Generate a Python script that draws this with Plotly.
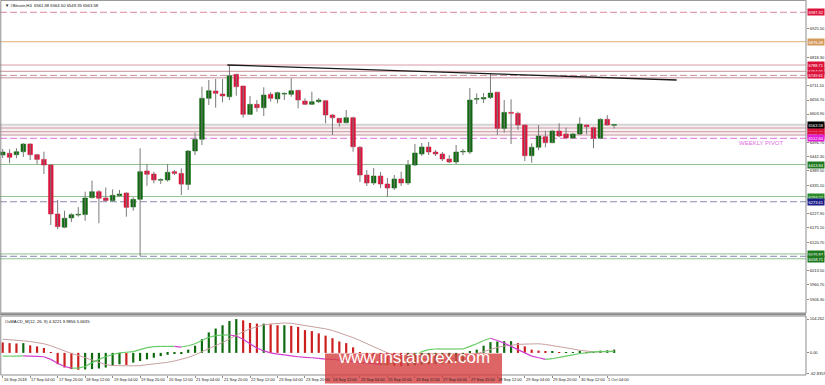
import plotly.graph_objects as go

# ---------------- data ----------------
bar_index = list(range(90))
open_ = [6449.7, 6456.1, 6450.8, 6462.1, 6491.2, 6450.8, 6433.1, 6412.0, 6227.5, 6177.6,
         6212.6, 6223.5, 6225.7, 6288.9, 6311.5, 6287.7, 6277.6, 6296.4, 6306.6, 6253.9,
         6282.8, 6389.5, 6378.1, 6354.5, 6355.5, 6386.9, 6380.3, 6338.8, 6464.8, 6508.9,
         6663.3, 6690.8, 6679.5, 6669.3, 6753.7, 6709.6, 6602.9, 6640.7, 6627.9, 6678.4,
         6660.7, 6679.0, 6678.4, 6693.4, 6653.1, 6640.7, 6650.5, 6654.3, 6600.4, 6588.0,
         6571.4, 6590.2, 6478.8, 6374.4, 6344.2, 6370.6, 6340.5, 6325.4, 6359.3, 6344.2,
         6412.0, 6453.5, 6479.9, 6461.0, 6453.5, 6434.6, 6423.3, 6461.0, 6461.0, 6659.5,
         6660.7, 6666.3, 6686.0, 6550.0, 6610.4, 6606.6, 6562.7, 6447.1, 6478.8, 6518.8,
         6496.2, 6540.0, 6528.8, 6513.7, 6528.8, 6562.7, 6552.6, 6512.7, 6584.2, 6561.68]
high = [6472.3, 6471.2, 6475.0, 6493.8, 6493.8, 6454.5, 6462.1, 6415.8, 6280.2, 6239.9,
        6230.3, 6253.5, 6311.5, 6353.1, 6317.9, 6327.3, 6320.4, 6317.9, 6308.8, 6290.4,
        6475.0, 6415.8, 6386.9, 6361.9, 6415.8, 6393.2, 6399.3, 6468.6, 6534.7, 6707.0,
        6732.2, 6736.0, 6736.0, 6788.7, 6755.0, 6711.0, 6672.0, 6656.9, 6704.7, 6685.9,
        6688.2, 6685.9, 6738.6, 6694.6, 6663.3, 6688.2, 6664.4, 6655.0, 6603.0, 6589.0,
        6619.2, 6594.0, 6483.6, 6393.2, 6400.7, 6385.7, 6363.1, 6374.4, 6386.7, 6430.9,
        6491.2, 6494.9, 6498.7, 6468.6, 6461.0, 6449.7, 6487.4, 6472.3, 6702.1, 6682.1,
        6683.3, 6758.6, 6688.2, 6656.9, 6659.5, 6612.8, 6564.0, 6493.8, 6562.7, 6541.1,
        6543.9, 6569.1, 6552.6, 6532.6, 6591.7, 6564.0, 6556.4, 6588.0, 6600.4, 6564.50]
low = [6438.4, 6418.4, 6437.3, 6442.2, 6430.9, 6414.6, 6378.1, 6186.0, 6170.0, 6173.8,
       6197.3, 6217.5, 6201.9, 6286.6, 6192.7, 6273.4, 6273.9, 6292.6, 6217.5, 6239.9,
       6069.2, 6333.7, 6342.8, 6340.5, 6349.2, 6374.4, 6299.0, 6317.9, 6449.7, 6487.4,
       6638.1, 6627.9, 6648.2, 6656.9, 6673.1, 6590.2, 6600.4, 6612.8, 6596.6, 6650.5,
       6644.5, 6656.9, 6669.3, 6625.6, 6638.1, 6638.1, 6645.6, 6568.9, 6525.1, 6556.3,
       6568.9, 6462.1, 6348.0, 6332.9, 6336.7, 6325.4, 6291.5, 6317.9, 6332.9, 6336.7,
       6408.3, 6445.9, 6449.7, 6445.9, 6427.1, 6419.6, 6415.8, 6449.7, 6453.5, 6641.8,
       6645.6, 6660.7, 6525.1, 6533.8, 6491.2, 6543.9, 6427.1, 6420.0, 6468.6, 6478.8,
       6493.8, 6516.3, 6509.7, 6509.7, 6525.1, 6527.3, 6474.9, 6509.7, 6560.0, 6549.35]
close = [6461.0, 6441.1, 6462.1, 6491.2, 6450.8, 6433.1, 6412.0, 6227.5, 6179.8, 6211.5,
         6225.0, 6225.7, 6287.7, 6311.5, 6286.6, 6278.3, 6297.9, 6302.8, 6252.4, 6282.8,
         6386.9, 6377.1, 6355.5, 6355.5, 6384.6, 6380.3, 6340.0, 6464.8, 6508.9, 6663.3,
         6691.9, 6682.1, 6672.0, 6748.4, 6707.0, 6602.9, 6640.7, 6627.9, 6675.7, 6663.3,
         6684.4, 6679.5, 6691.9, 6656.9, 6640.7, 6650.5, 6656.9, 6600.4, 6590.2, 6571.4,
         6590.2, 6480.8, 6374.4, 6344.2, 6370.6, 6340.5, 6325.4, 6359.3, 6344.2, 6412.0,
         6457.2, 6479.9, 6461.0, 6453.5, 6434.6, 6423.3, 6461.0, 6462.1, 6656.9, 6661.8,
         6666.3, 6683.3, 6550.0, 6610.4, 6606.6, 6562.7, 6447.1, 6478.8, 6521.3, 6496.2,
         6540.0, 6521.3, 6513.7, 6528.8, 6566.5, 6556.4, 6512.7, 6584.2, 6562.7, 6563.58]

osma_hist = [32, 30, 29, 30, 23, 20, 15, 2, -35, -45,
             -50, -52, -51, -50, -48, -45, -40, -35, -37, -30,
             -25, -20, -15, -10, -6, -3, -2, 10, 22, 42,
             63, 75, 85, 98, 104, 100, 92, 90, 90, 88,
             85, 85, 83, 80, 70, 67, 60, 53, 45, 35,
             30, 17, 1, -20, -30, -35, -38, -40, -41, -40,
             -38, -36, -35, -34, -33, -32, -30, -28, 5, 10,
             22, 33, 35, 36, 36, 30, 20, 10, 7, 3,
             3, 2, 2, 2, 5, 2, 2, 7, 8, 9.99]
macd_line = [-10, -10, -10, -9, -10, -11, -12, -20, -32, -42,
             -47, -47, -42, -30, -20, -12, -5, 0, 2, 4,
             10, 16, 19, 20, 20, 20, 18, 22, 28, 38,
             48, 53, 55, 55, 52, 42, 28, 15, 6, 0,
             -4, -6, -9, -12, -14, -15, -17, -19, -20, -22,
             -24, -27, -30, -31, -33, -35, -35, -30, -22, -12,
             -4, 4, 10, 12, 12, 12, 12, 12, 20, 28,
             38, 45, 38, 30, 20, 10, 0, -10, -15, -20,
             -18, -14, -10, -6, -2, 0, 3, 4, 4, 4.32]
signal_line = [42, 41, 39, 37, 35, 32, 28, 22, 14, 5,
               -2, -8, -15, -22, -30, -36, -39, -40, -40, -40,
               -39, -37, -35, -32, -29, -25, -20, -14, -6, 3,
               12, 22, 32, 43, 55, 65, 74, 81, 86, 89,
               91, 92, 91, 88, 85, 82, 79, 74, 69, 62,
               55, 47, 38, 28, 18, 8, 0, -8, -14, -18,
               -20, -21, -21, -21, -20, -19, -17, -14, -9, -3,
               4, 11, 17, 21, 24, 26, 27, 28, 28, 26,
               23, 20, 16, 12, 8, 5, 3, 3, 4, 5.66]

x_label_bars = [0, 4, 8, 12, 16, 20, 24, 28, 32, 36, 40, 44, 48, 52, 56, 60, 64, 68, 72, 76, 80, 84, 88]
x_labels = ["16 Sep 2018", "17 Sep 04:00", "17 Sep 20:00", "18 Sep 12:00", "19 Sep 04:00",
            "19 Sep 20:00", "20 Sep 12:00", "21 Sep 04:00", "21 Sep 20:00", "22 Sep 12:00",
            "23 Sep 04:00", "23 Sep 20:00", "24 Sep 12:00", "25 Sep 04:00", "25 Sep 20:00",
            "26 Sep 12:00", "27 Sep 04:00", "27 Sep 20:00", "28 Sep 12:00", "29 Sep 04:00",
            "29 Sep 20:00", "30 Sep 12:00", "1 Oct 04:00"]

price_ticks = [6925.50, 6818.30, 6711.10, 6656.70, 6603.90, 6496.70, 6442.30, 6389.50,
               6335.10, 6227.90, 6175.10, 6120.70, 6013.50, 5960.70, 5906.30, 5853.50]
macd_ticks = [104.262, 0.0, -62.8357]
macd_tick_text = ["104.262", "0.00", "-62.8357"]

level_values = [6987.32, 6876.48, 6788.71, 6764.95, 6749.61, 6740.40, 6551.40, 6537.45,
                6525.05, 6512.64, 6413.84, 6293.22, 6273.61, 6076.87, 6068.10, 6058.71]
level_labelled = [True, True, True, True, True, False, True, True,
                  True, True, True, True, True, True, False, True]
current_price = 6563.58
pivot_band = [6566.0, 6522.0]
trend_x = [32.7, 98.1]
trend_y = [6788.7, 6732.2]
weekly_pivot_text = "WEEKLY PIVOT"
weekly_pivot_price = 6495.0
title_text = "\u25bc #Bitcoin,H4  6561.68 6564.50 6549.35 6563.58"
macd_title = "OsMACD_M(12, 26, 9) 4.3221 9.9856 5.6635"

# ---------------- styles ----------------
level_colors = ['#d88a9a', '#e2ae78', '#d89aa8', '#c8909a', '#c8909a', '#c8909a', '#c89aa4', '#c89aa4',
                '#c89aa4', '#e070e0', '#8fbf8f', '#8fbf8f', '#8a8ab8', '#8fbf8f', '#8a8ab8', '#8fbf8f']
level_dash = ['7px,3px', 'solid', 'solid', 'solid', '7px,3px', 'solid', 'solid', 'solid',
              'solid', '7px,3px', 'solid', 'solid', '7px,3px', 'solid', '7px,3px', 'solid']
box_colors = ['#dc143c', '#d49a5c', '#dc143c', '#dc143c', '#dc143c', None, '#dc143c', '#dc143c',
              '#dc143c', '#e020d8', '#1f7a1f', '#2a8a2a', '#1c1c88', '#1f7a1f', None, '#1f7a1f']
BULL = '#0f6a0f'
BEAR = '#dc143c'
FONT = 'Liberation Sans, Arial, sans-serif'

H = 375.0
main_dom = [(H - 313) / H, 1.0]
macd_dom = [0.0, (H - 316) / H]

fig = go.Figure()

# wicks
wx, wy = [], []
for i in bar_index:
    wx += [i, i, None]
    wy += [low[i], high[i], None]
fig.add_trace(go.Scatter(x=wx, y=wy, mode='lines', line=dict(color='#7a7a7a', width=1),
                         hoverinfo='skip', showlegend=False, xaxis='x', yaxis='y'))

# bodies
base = [min(o, c) for o, c in zip(open_, close)]
height = [max(abs(c - o), 3.0) for o, c in zip(open_, close)]
bcol = [BULL if c >= o else BEAR for o, c in zip(open_, close)]
fig.add_trace(go.Bar(x=bar_index, y=height, base=base, width=0.68,
                     marker=dict(color=bcol, line=dict(color=bcol, width=0.5)),
                     showlegend=False, xaxis='x', yaxis='y'))

# trendline
fig.add_trace(go.Scatter(x=trend_x, y=trend_y, mode='lines', line=dict(color='#1a1a1a', width=1.3),
                         showlegend=False, xaxis='x', yaxis='y'))

# MACD histogram
hcol = []
for i, v in enumerate(osma_hist):
    if i == 0 or v < osma_hist[i - 1]:
        hcol.append('#cc1f1f')
    else:
        hcol.append('#0f6a0f')
fig.add_trace(go.Bar(x=bar_index, y=osma_hist, width=0.32, marker=dict(color=hcol, line=dict(width=0)),
                     showlegend=False, xaxis='x', yaxis='y2'))

# signal line
fig.add_trace(go.Scatter(x=bar_index, y=signal_line, mode='lines', line=dict(color='#c8a0a0', width=1),
                         showlegend=False, xaxis='x', yaxis='y2'))

# colored macd line
gx, gy, mx, my = [], [], [], []
for i in range(1, len(macd_line)):
    if macd_line[i] >= macd_line[i - 1]:
        gx += [i - 1, i, None]; gy += [macd_line[i - 1], macd_line[i], None]
    else:
        mx += [i - 1, i, None]; my += [macd_line[i - 1], macd_line[i], None]
fig.add_trace(go.Scatter(x=gx, y=gy, mode='lines', line=dict(color='#66cc66', width=1.2),
                         showlegend=False, xaxis='x', yaxis='y2'))
fig.add_trace(go.Scatter(x=mx, y=my, mode='lines', line=dict(color='#d040d0', width=1.2),
                         showlegend=False, xaxis='x', yaxis='y2'))

shapes = []
# pivot band fill
shapes.append(dict(type='rect', xref='paper', x0=0, x1=1, yref='y', y0=pivot_band[1], y1=pivot_band[0],
                   fillcolor='rgba(225,180,190,0.22)', line=dict(width=0), layer='below'))
# current price line
shapes.append(dict(type='line', xref='paper', x0=0, x1=1, yref='y', y0=current_price, y1=current_price,
                   line=dict(color='#d4d4d4', width=2), layer='below'))
for v, c, d in zip(level_values, level_colors, level_dash):
    shapes.append(dict(type='line', xref='paper', x0=0, x1=1, yref='y', y0=v, y1=v,
                       line=dict(color=c, width=1, dash=d), layer='below'))
# panel borders
shapes.append(dict(type='rect', xref='paper', x0=0.001, x1=1, yref='paper', y0=main_dom[0], y1=0.999,
                   line=dict(color='#8c8c8c', width=1), layer='above'))
shapes.append(dict(type='line', xref='paper', x0=0, x1=1, yref='paper', y0=main_dom[0] - 0.003,
                   y1=main_dom[0] - 0.003, line=dict(color='#8c8c8c', width=2), layer='above'))
shapes.append(dict(type='rect', xref='paper', x0=0.001, x1=1, yref='paper', y0=0.0, y1=macd_dom[1],
                   line=dict(color='#8c8c8c', width=1), layer='above'))
# watermark box
shapes.append(dict(type='rect', xref='paper', x0=325 / 806, x1=502 / 806, yref='paper',
                   y0=(H - 383.5) / H, y1=(H - 353.5) / H,
                   fillcolor='rgba(214,62,62,0.80)', line=dict(width=0), layer='above'))

annotations = []
for b, t in zip(x_label_bars, x_labels):
    annotations.append(dict(x=b, xref='x', y=0, yref='paper', yanchor='top', xanchor='left',
                            yshift=-1, text=t, showarrow=False, borderpad=0,
                            font=dict(size=4, color='#222222', family=FONT)))
for v, lab, bc in zip(level_values, level_labelled, box_colors):
    if lab:
        annotations.append(dict(x=1, xref='paper', xanchor='left', xshift=1, y=v, yref='y',
                                text='%.2f' % v, showarrow=False, bgcolor=bc, borderpad=0.5,
                                font=dict(size=4, color='white', family=FONT)))
annotations.append(dict(x=1, xref='paper', xanchor='left', xshift=1, y=current_price, yref='y',
                        text='%.2f' % current_price, showarrow=False, bgcolor='#000000', borderpad=0.5,
                        font=dict(size=4, color='white', family=FONT)))
annotations.append(dict(x=738 / 806, xref='paper', xanchor='left', y=weekly_pivot_price, yref='y',
                        text=weekly_pivot_text, showarrow=False, borderpad=0,
                        font=dict(size=6, color='#dd6ee0', family=FONT)))
annotations.append(dict(x=0.004, xref='paper', xanchor='left', y=1, yref='paper', yanchor='top',
                        yshift=-1, text=title_text, showarrow=False,
                        font=dict(size=4.2, color='#111111', family=FONT)))
annotations.append(dict(x=0.004, xref='paper', xanchor='left', y=macd_dom[1], yref='paper',
                        yanchor='top', yshift=-1, text=macd_title, showarrow=False,
                        font=dict(size=4.2, color='#111111', family=FONT)))
annotations.append(dict(x=(325 + 502) / 2 / 806, xref='paper', y=(H - 369) / H, yref='paper',
                        text='www.instaforex.com', showarrow=False,
                        font=dict(size=17, color='white', family=FONT)))

fig.update_layout(
    width=825, height=385,
    margin=dict(l=0, r=19, t=0, b=10, pad=0, autoexpand=False),
    paper_bgcolor='white', plot_bgcolor='white',
    barmode='overlay', showlegend=False,
    xaxis=dict(range=[-0.393, 116.93], domain=[0, 1], anchor='y2', showgrid=False, zeroline=False,
               tickvals=x_label_bars, ticktext=['' for _ in x_labels], ticks='outside', ticklen=2,
               tickcolor='#8c8c8c', showline=False, automargin=False),
    yaxis=dict(domain=main_dom, range=[5854.5, 7033.6], side='right', anchor='x', showgrid=False,
               zeroline=False, tickvals=price_ticks, ticktext=['%.2f' % v for v in price_ticks],
               ticks='outside', ticklen=2, tickcolor='#8c8c8c', automargin=False,
               tickfont=dict(size=4, color='#222222', family=FONT), showline=False),
    yaxis2=dict(domain=macd_dom, range=[-68.1, 113.5], side='right', anchor='x', showgrid=False,
                zeroline=False, tickvals=macd_ticks, ticktext=macd_tick_text, ticks='outside',
                ticklen=2, tickcolor='#8c8c8c', tickfont=dict(size=4, color='#222222', family=FONT),
                showline=False, automargin=False),
    shapes=shapes, annotations=annotations,
)

fig.write_html("out.html", config={'displayModeBar': False},
               post_script="document.body.style.margin='0';document.body.style.overflow='hidden';")
